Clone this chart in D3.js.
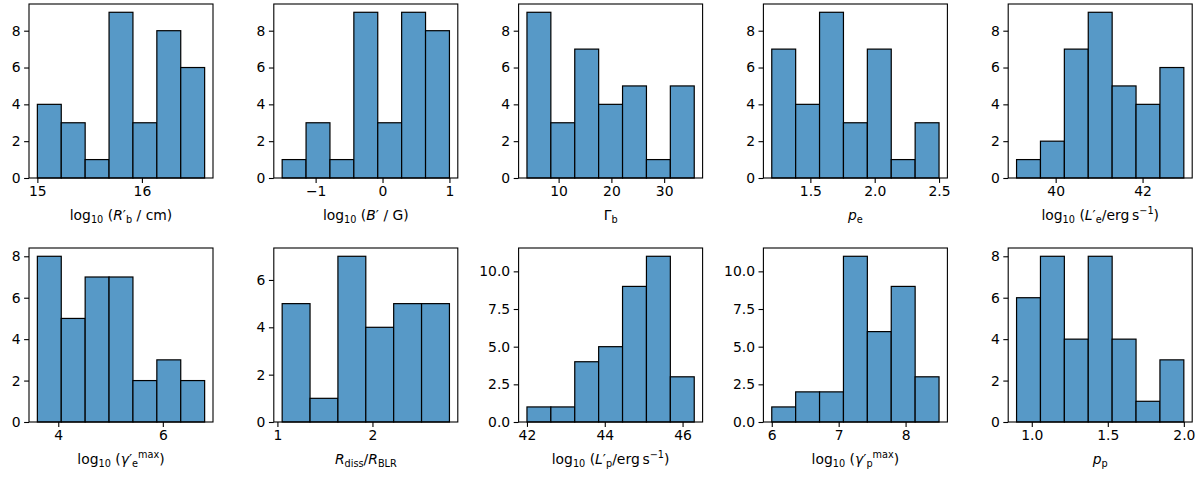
<!DOCTYPE html>
<html>
<meta charset="utf-8">
<head>
  <script src="https://d3js.org/d3.v7.min.js"></script>
  <style>
    body { margin:0; background:#fff; }
    text { font-family:"DejaVu Sans", sans-serif; fill:#000; }
  </style>
</head>
<body>
<script>
    // bin counts per parameter
    var rbCounts     = [4,3,1,9,3,8,6] ;
    var bCounts      = [1,3,1,9,3,9,8] ;
    var gammaCounts  = [9,3,7,4,5,1,5] ;
    var peCounts     = [7,4,9,3,7,1,3] ;
    var leCounts     = [1,2,7,9,5,4,6] ;
    var gemaxCounts  = [8,5,7,7,2,3,2] ;
    var rdissCounts  = [5,1,7,4,5,5] ;
    var lpCounts     = [1,1,4,5,9,11,3] ;
    var gpmaxCounts  = [1,2,2,11,6,9,3] ;
    var ppCounts     = [6,8,4,8,4,1,3] ;

    // first and last bin edge
    var rbRange    = [15.0, 16.6] ;
    var bRange     = [-1.5, 1.0] ;
    var gammaRange = [4.0, 35.7] ;
    var peRange    = [1.2, 2.5] ;
    var leRange    = [39.1, 42.95] ;
    var gemaxRange = [3.6, 6.8] ;
    var rdissRange = [1.05, 2.81] ;
    var lpRange    = [42.0, 46.3] ;
    var gpmaxRange = [6.0, 8.5] ;
    var ppRange    = [0.9, 2.0] ;

    // tick labels
    var rbTicks    = [15,16] ;
    var bTicks     = [-1,0,1] ;
    var gammaTicks = [10,20,30] ;
    var peTicks    = [1.5,2.0,2.5] ;
    var leTicks    = [40,42] ;
    var gemaxTicks = [4,6] ;
    var rdissTicks = [1,2] ;
    var lpTicks    = [42,44,46] ;
    var gpmaxTicks = [6,7,8] ;
    var ppTicks    = [1.0,1.5,2.0] ;
    var yTicks8    = [0,2,4,6,8] ;
    var yTicks6    = [0,2,4,6] ;
    var yTicks10   = [0,2.5,5,7.5,10] ;

    // axis labels as (text, italic, level) pieces; level -1 = sub, 1 = sup
    var rbLabel    = [['log'],['10',0,-1],[' ('],['R',1],['′'],['b',0,-1],[' / cm)']] ;
    var bLabel     = [['log'],['10',0,-1],[' ('],['B',1],['′'],[' / G)']] ;
    var gammaLabel = [['Γ'],['b',0,-1]] ;
    var peLabel    = [['p',1],['e',0,-1]] ;
    var leLabel    = [['log'],['10',0,-1],[' ('],['L',1],['′'],['e',0,-1],['/erg\u2009s'],['−1',0,1],[')']] ;
    var gemaxLabel = [['log'],['10',0,-1],[' ('],['γ',1],['′'],['e',0,-1],['max',0,1],[')']] ;
    var rdissLabel = [['R',1],['diss',0,-1],['/'],['R',1],['BLR',0,-1]] ;
    var lpLabel    = [['log'],['10',0,-1],[' ('],['L',1],['′'],['p',0,-1],['/erg\u2009s'],['−1',0,1],[')']] ;
    var gpmaxLabel = [['log'],['10',0,-1],[' ('],['γ',1],['′'],['p',0,-1],['max',0,1],[')']] ;
    var ppLabel    = [['p',1],['p',0,-1]] ;

    var panels = [
	{c:rbCounts,    r:rbRange,    xt:rbTicks,    yt:yTicks8,  lab:rbLabel,    fmt:d3.format('d')},
	{c:bCounts,     r:bRange,     xt:bTicks,     yt:yTicks8,  lab:bLabel,     fmt:d3.format('d')},
	{c:gammaCounts, r:gammaRange, xt:gammaTicks, yt:yTicks8,  lab:gammaLabel, fmt:d3.format('d')},
	{c:peCounts,    r:peRange,    xt:peTicks,    yt:yTicks8,  lab:peLabel,    fmt:d3.format('.1f')},
	{c:leCounts,    r:leRange,    xt:leTicks,    yt:yTicks8,  lab:leLabel,    fmt:d3.format('d')},
	{c:gemaxCounts, r:gemaxRange, xt:gemaxTicks, yt:yTicks8,  lab:gemaxLabel, fmt:d3.format('d')},
	{c:rdissCounts, r:rdissRange, xt:rdissTicks, yt:yTicks6,  lab:rdissLabel, fmt:d3.format('d')},
	{c:lpCounts,    r:lpRange,    xt:lpTicks,    yt:yTicks10, lab:lpLabel,    fmt:d3.format('d'), yf:d3.format('.1f')},
	{c:gpmaxCounts, r:gpmaxRange, xt:gpmaxTicks, yt:yTicks10, lab:gpmaxLabel, fmt:d3.format('d'), yf:d3.format('.1f')},
	{c:ppCounts,    r:ppRange,    xt:ppTicks,    yt:yTicks8,  lab:ppLabel,    fmt:d3.format('.1f')}
    ] ;

    const W = 1200, H = 477 ;
    const left0 = 29, step = 244.8, pw = 184 ;
    const tops = [4, 248], ph = 174 ;
    const fs = 13.9, tick = 4.9 ;
    const fill = '#5799c7' ;

    var svg = d3.select('body').append('svg').attr('width',W).attr('height',H) ;

    function minus(s) { return String(s).replace('-','−') }

    function mathLabel(g, pieces, x, y) {
	var t = g.append('text').attr('x',x).attr('y',y).attr('text-anchor','middle')
	    .style('font-size',fs+'px') ;
	var cur = 0 ;
	pieces.forEach(function(p) {
	    var lvl = p[2] || 0 ;
	    var off = lvl==-1 ? 3.2 : (lvl==1 ? -5.6 : 0) ;
	    t.append('tspan').text(p[0])
		.attr('dy', off-cur)
		.style('font-size', (lvl==0?fs:fs*0.7)+'px')
		.style('font-style', p[1] ? 'italic' : 'normal') ;
	    cur = off ;
	}) ;
    }

    function drawPanel(p, i) {
	var x0 = left0 + (i%5)*step ;
	var y0 = tops[Math.floor(i/5)] ;
	var n = p.c.length ;
	var bw = (p.r[1]-p.r[0])/n ;
	var edges = d3.range(n).map(k => ({lo:p.r[0]+k*bw, hi:p.r[0]+(k+1)*bw, v:p.c[k]})) ;
	var pad = (p.r[1]-p.r[0])*0.05 ;
	var x = d3.scaleLinear().domain([p.r[0]-pad, p.r[1]+pad]).range([x0, x0+pw]) ;
	var y = d3.scaleLinear().domain([0, d3.max(p.c)*1.05]).range([y0+ph, y0]) ;

	var g = svg.append('g') ;
	g.selectAll('rect').data(edges).join('rect')
	    .attr('x',d=>x(d.lo)).attr('width',d=>x(d.hi)-x(d.lo))
	    .attr('y',d=>y(d.v)).attr('height',d=>y(0)-y(d.v))
	    .attr('fill',fill).attr('stroke','#000').attr('stroke-width',1.2) ;

	g.append('rect').attr('x',x0).attr('y',y0).attr('width',pw).attr('height',ph)
	    .attr('fill','none').attr('stroke','#000').attr('stroke-width',1.1) ;

	var xa = g.append('g').attr('transform','translate(0,'+(y0+ph)+')')
	    .call(d3.axisBottom(x).tickValues(p.xt).tickSize(tick).tickPadding(3.5)
		  .tickFormat(d=>minus(p.fmt(d)))) ;
	var ya = g.append('g').attr('transform','translate('+x0+',0)')
	    .call(d3.axisLeft(y).tickValues(p.yt).tickSize(tick).tickPadding(3.5)
		  .tickFormat(p.yf || d3.format('d'))) ;
	[xa,ya].forEach(function(a) {
	    a.select('.domain').remove() ;
	    a.selectAll('line').attr('stroke','#000').attr('stroke-width',1.1) ;
	    a.selectAll('text').style('font-size',fs+'px').style('font-family','DejaVu Sans').attr('fill','#000') ;
	}) ;

	mathLabel(g, p.lab, x0+pw/2, y0+ph+42) ;
    }

    panels.forEach(drawPanel) ;
</script>
</body>
</html>
